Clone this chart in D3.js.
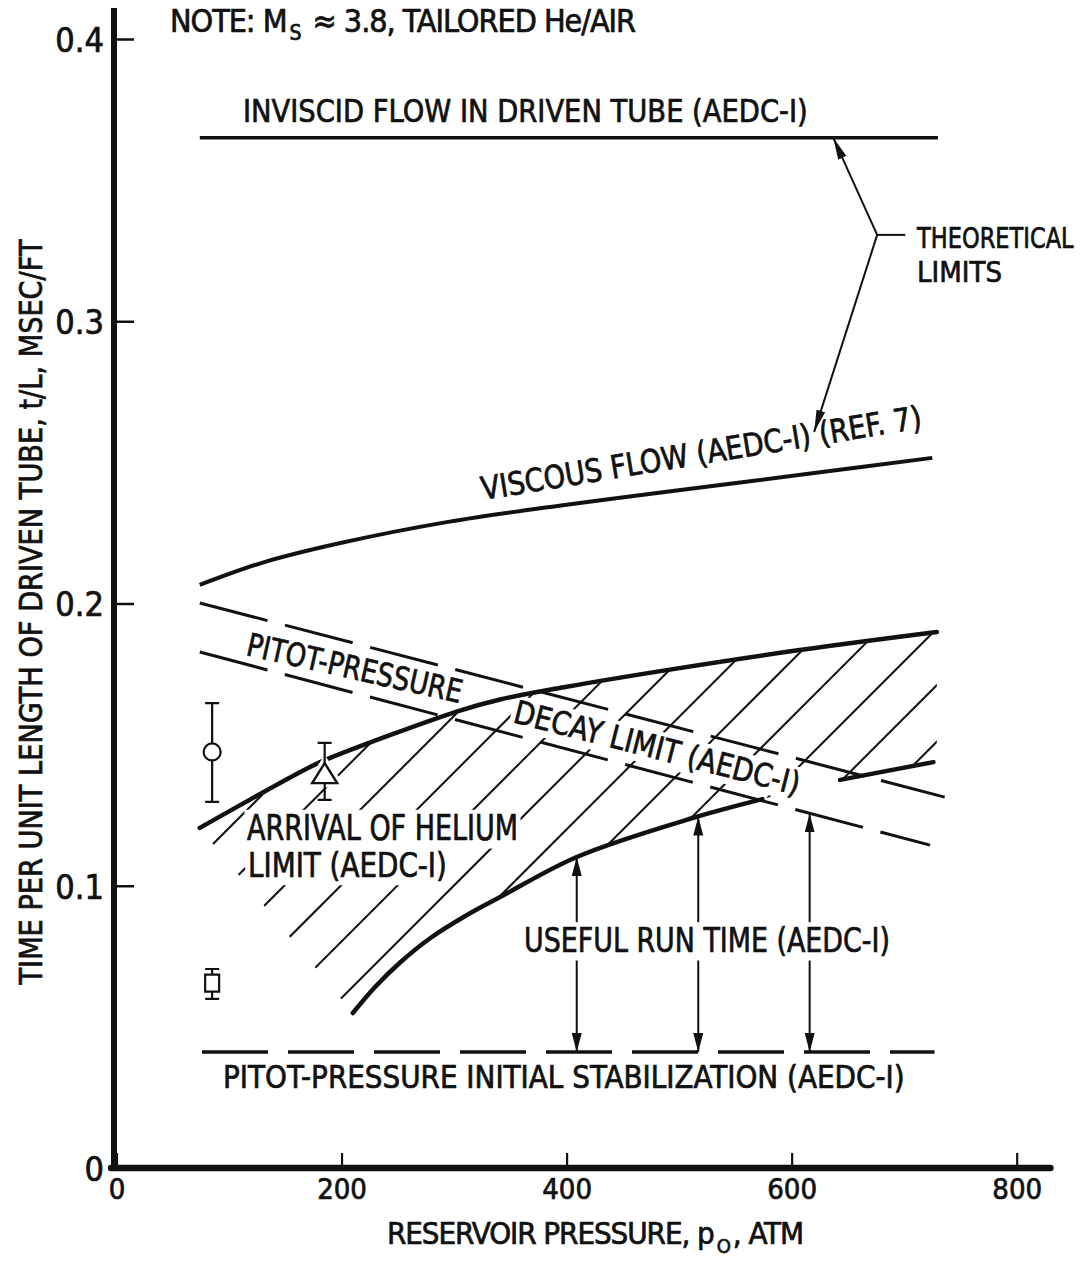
<!DOCTYPE html>
<html>
<head>
<meta charset="utf-8">
<script src="https://cdn.jsdelivr.net/npm/d3@7"></script>
<style>
  html, body { margin: 0; padding: 0; background: #fff; }
  svg { display: block; }
  text { font-family: "Liberation Sans Narrow", "DejaVu Sans Condensed", "Arial Narrow", sans-serif; fill: #111; stroke: #111; stroke-width: 0.7px; }
</style>
</head>
<body>
<svg id="chart" width="1091" height="1269"></svg>
<script>
// Run time per unit driven-tube length vs. reservoir pressure (AEDC-I tunnel)

// axis ticks
const xTicks = [0, 200, 400, 600, 800];
const yTicks = [0, 0.1, 0.2, 0.3, 0.4];
const yTickLabels = ["0", "0.1", "0.2", "0.3", "0.4"];

// theoretical limits  [reservoir pressure atm, t/L msec/ft]
const inviscid = [[74, 0.365], [730, 0.365]];
const viscous = [[74, 0.2066], [130, 0.2145], [200, 0.2215], [296, 0.2290], [400, 0.2350], [503, 0.2403], [620, 0.2462], [725, 0.2516]];

// arrival-of-helium limit (upper edge of useful region)
const heliumArrival = [[74, 0.1205], [172, 0.1421], [190, 0.1453], [303, 0.1618], [341, 0.1660], [400, 0.1705], [489, 0.1764], [607, 0.1835], [729, 0.1899]];

// lower solid limit curve, two drawn pieces
const lowerLimitA = [[210, 0.0549], [230, 0.0642], [252, 0.0728], [279, 0.0815], [310, 0.0893], [341, 0.0960], [409, 0.1102], [512, 0.1240], [574, 0.1307]];
const lowerLimitB = [[643, 0.1375], [726, 0.1438]];

// pitot-pressure decay limit band and initial stabilization
const decayUpper = [[74, 0.2002], [736, 0.1314]];
const decayLower = [[74, 0.1828], [723, 0.1144]];
const stabilization = [[76, 0.0411], [727, 0.0411]];

// useful run time arrows
const runTimeP = [409, 517, 616];
const runTimeTop = [0.1102, 0.1245, 0.1256];
const runTimeBottom = 0.0411;

// measured points with scatter bars
const measShape = ["circle", "triangle", "square"];
const measP = [85, 185, 85];
const measT = [0.1474, 0.1392, 0.0655];
const measLo = [0.1297, 0.1304, 0.0599];
const measHi = [0.1647, 0.1506, 0.0705];

// "theoretical limits" pointer: upper tip, junction, lower tip, label tick end
const pointerUpperTip = [637, 0.365];
const pointerJunction = [676, 0.3306];
const pointerLowerTip = [620, 0.2608];
const pointerTickEnd = [701, 0.3306];

const svg = d3.select("#chart");
const x = d3.scaleLinear().domain([0, 800]).range([116.5, 1016.7]);
const y = d3.scaleLinear().domain([0, 0.4]).range([1168, 39]);

const smooth = d3.line().x(d => x(d[0])).y(d => y(d[1])).curve(d3.curveCatmullRom.alpha(0.5));
const straight = d3.line().x(d => x(d[0])).y(d => y(d[1]));

const defs = svg.append("defs");
function arrowMarker(id, len, wid) {
  defs.append("marker")
    .attr("id", id).attr("markerUnits", "userSpaceOnUse")
    .attr("viewBox", `${-len} ${-wid} ${len + 1} ${wid * 2}`)
    .attr("refX", 0).attr("refY", 0)
    .attr("markerWidth", len + 1).attr("markerHeight", wid * 2)
    .attr("orient", "auto-start-reverse")
    .append("path").attr("d", `M0,0L${-len},${-wid / 2}L${-len},${wid / 2}Z`).attr("fill", "#111");
}
arrowMarker("headRun", 19, 10);
arrowMarker("headPtr", 22, 9);

// ---------- hatched useful-run-time region ----------
const h0 = heliumArrival[0], hN = heliumArrival[heliumArrival.length - 1];
const bN = lowerLimitB[lowerLimitB.length - 1];
defs.append("clipPath").attr("id", "belowHelium").append("path")
  .attr("d", smooth(heliumArrival) + `L${x(hN[0])},${y(0)}L${x(h0[0])},${y(0)}Z`);
defs.append("clipPath").attr("id", "aboveLower").append("path")
  .attr("d", `M${x(h0[0])},${y(h0[1])}L` + smooth(lowerLimitA).slice(1) + "L" + smooth(lowerLimitB).slice(1) +
    `L${x(780)},${y(bN[1])}L${x(780)},${y(0.4)}L${x(20)},${y(0.4)}L${x(20)},${y(h0[1])}Z`);

const hatchStep = 56.5, hatchPhase = 1170;
const hatchC = d3.range(-6, 14).map(k => hatchPhase + k * hatchStep);
svg.append("g").attr("clip-path", "url(#belowHelium)")
  .append("g").attr("clip-path", "url(#aboveLower)")
  .selectAll("line").data(hatchC).join("line")
  .attr("x1", c => 100).attr("y1", c => c - 100)
  .attr("x2", c => 1000).attr("y2", c => c - 1000)
  .attr("stroke", "#111").attr("stroke-width", 2);

// ---------- axes ----------
const gx = svg.append("g").attr("transform", `translate(0,${y(0)})`)
  .call(d3.axisBottom(x).tickValues(xTicks).tickSize(-15).tickSizeOuter(0).tickPadding(10).tickFormat(d3.format("d")));
gx.select(".domain").remove();
gx.selectAll(".tick line").attr("stroke", "#111").attr("stroke-width", 2.2);
gx.selectAll(".tick text").attr("font-size", 29);

const gy = svg.append("g").attr("transform", `translate(${x(0) - 2.5},0)`)
  .call(d3.axisLeft(y).tickValues(yTicks).tickSize(-20).tickSizeOuter(0).tickPadding(10).tickFormat((d, i) => yTickLabels[i]));
gy.select(".domain").remove();
gy.selectAll(".tick line").attr("stroke", "#111").attr("stroke-width", 2.5);
gy.selectAll(".tick text").attr("font-size", 34).attr("dy", "0.36em");

svg.append("line").attr("x1", x(0) - 5.5).attr("x2", x(830)).attr("y1", y(0)).attr("y2", y(0))
  .attr("stroke", "#111").attr("stroke-width", 6.5).attr("stroke-linecap", "round");
svg.append("line").attr("x1", x(0) - 2.5).attr("x2", x(0) - 2.5).attr("y1", y(0) + 2).attr("y2", y(0.411))
  .attr("stroke", "#111").attr("stroke-width", 6);

// ---------- labels ----------
// Labels are squeezed horizontally to their lettered width; knockout=true
// clears whatever lies under the label's box.
function label(str, px, py, size, len, angle, knockout) {
  const g = svg.append("g");
  const t = g.append("text").attr("font-size", size).text(str);
  const w = t.node().getBBox().width;
  g.attr("transform", `translate(${px},${py}) rotate(${angle || 0}) scale(${(len / w).toFixed(4)},1)`);
  if (knockout) {
    const bb = t.node().getBBox();
    g.insert("rect", "text").attr("x", bb.x - 3).attr("y", bb.y + 2).attr("width", bb.width + 6).attr("height", bb.height - 2).attr("fill", "#fff");
  }
  return t;
}
// stretch a multi-part label to a given width with letter spacing
function spreadTo(t, width) {
  const n = t.text().length;
  const w = t.node().getBBox().width;
  t.attr("letter-spacing", ((width - w) / n).toFixed(2));
}

const note = svg.append("text").attr("x", 170).attr("y", 32).attr("font-size", 32);
note.append("tspan").text("NOTE:  M");
note.append("tspan").attr("font-size", 21).attr("dx", 3).attr("dy", 8).text("S");
note.append("tspan").attr("dx", 4).attr("dy", -8).text(" \u2248 3.8,  TAILORED He/AIR");
spreadTo(note, 463);

label("INVISCID FLOW IN DRIVEN TUBE (AEDC-I)", 243, 122, 32, 565);
label("THEORETICAL", 917, 248, 29, 158);
label("LIMITS", 917, 282, 29, 85);
label("VISCOUS FLOW (AEDC-I) (REF. 7)", 483, 500, 32, 446, -9.3);
label("PITOT-PRESSURE", 245, 655, 32, 220, 12.6, true);
label("DECAY LIMIT (AEDC-I)", 512, 722, 32, 294, 14.4, true);
label("ARRIVAL OF HELIUM", 247, 840, 35, 271, 0, true);
label("LIMIT (AEDC-I)", 248, 877, 33, 199, 0, true);
label("PITOT-PRESSURE INITIAL STABILIZATION (AEDC-I)", 223, 1088, 32, 682);

const xt = svg.append("text").attr("x", 387).attr("y", 1244).attr("font-size", 31);
xt.append("tspan").text("RESERVOIR PRESSURE, p");
xt.append("tspan").attr("font-size", 20).attr("dx", 3).attr("dy", 9).text("O");
xt.append("tspan").attr("dx", 3).attr("dy", -9).text(", ATM");
spreadTo(xt, 416);

svg.append("text").attr("transform", "translate(42,612) rotate(-90)").attr("text-anchor", "middle")
  .attr("font-size", 32).attr("textLength", 745).attr("lengthAdjust", "spacingAndGlyphs")
  .text("TIME PER UNIT LENGTH OF DRIVEN TUBE, t/L, MSEC/FT");

// ---------- limit lines ----------
const ink = "#111";
svg.append("path").attr("d", straight(inviscid)).attr("fill", "none").attr("stroke", ink).attr("stroke-width", 3.5);
svg.append("path").attr("d", smooth(viscous)).attr("fill", "none").attr("stroke", ink).attr("stroke-width", 4);
svg.append("path").attr("d", smooth(heliumArrival)).attr("fill", "none").attr("stroke", ink).attr("stroke-width", 4.5).attr("stroke-linecap", "round");
svg.append("path").attr("d", smooth(lowerLimitA)).attr("fill", "none").attr("stroke", ink).attr("stroke-width", 4.5).attr("stroke-linecap", "round");
svg.append("path").attr("d", smooth(lowerLimitB)).attr("fill", "none").attr("stroke", ink).attr("stroke-width", 4.5).attr("stroke-linecap", "round");
svg.append("path").attr("d", straight(decayUpper)).attr("fill", "none").attr("stroke", ink).attr("stroke-width", 3).attr("stroke-dasharray", "70 18");
svg.append("path").attr("d", straight(decayLower)).attr("fill", "none").attr("stroke", ink).attr("stroke-width", 3).attr("stroke-dasharray", "70 18");
svg.append("path").attr("d", straight(stabilization)).attr("fill", "none").attr("stroke", ink).attr("stroke-width", 3.5).attr("stroke-dasharray", "66 20");

// useful run time double arrows
svg.append("g").selectAll("line").data(runTimeP).join("line")
  .attr("x1", d => x(d)).attr("x2", d => x(d))
  .attr("y1", (d, i) => y(runTimeTop[i])).attr("y2", y(runTimeBottom))
  .attr("stroke", ink).attr("stroke-width", 2)
  .attr("marker-start", "url(#headRun)").attr("marker-end", "url(#headRun)");

// label sits over the arrows, which break around it
label("USEFUL RUN TIME (AEDC-I)", 524, 952, 34, 366, 0, true);

// theoretical limits pointer
svg.append("path").attr("d", straight([pointerJunction, pointerUpperTip])).attr("fill", "none").attr("stroke", ink).attr("stroke-width", 2).attr("marker-end", "url(#headPtr)");
svg.append("path").attr("d", straight([pointerJunction, pointerLowerTip])).attr("fill", "none").attr("stroke", ink).attr("stroke-width", 2).attr("marker-end", "url(#headPtr)");
svg.append("path").attr("d", straight([pointerJunction, pointerTickEnd])).attr("fill", "none").attr("stroke", ink).attr("stroke-width", 2);

// ---------- measured points ----------
const meas = measShape.map((s, i) => ({ s, p: measP[i], t: measT[i], lo: measLo[i], hi: measHi[i] }));
const symbolPath = s => {
  if (s === "circle") return "M-8.5,0A8.5,8.5 0 1,0 8.5,0A8.5,8.5 0 1,0 -8.5,0Z";
  if (s === "triangle") return "M0,-12L12.5,8L-12.5,8Z";
  return "M-7,-8.5H7V8.5H-7Z";
};
const gm = svg.append("g").attr("stroke", ink).attr("stroke-width", 2.2).attr("fill", "#fff");
// white gap in the helium curve around the triangle
gm.selectAll(".gap").data(meas.filter(d => d.s === "triangle")).join("path")
  .attr("transform", d => `translate(${x(d.p)},${y(d.t)})`)
  .attr("d", d => symbolPath(d.s)).attr("stroke", "#fff").attr("stroke-width", 9);
gm.selectAll(".bar").data(meas).join("path")
  .attr("d", d => {
    const cx = x(d.p), cw = 7;
    return `M${cx},${y(d.hi)}V${y(d.lo)}M${cx - cw},${y(d.hi)}H${cx + cw}M${cx - cw},${y(d.lo)}H${cx + cw}`;
  }).attr("fill", "none");
gm.selectAll(".sym").data(meas).join("path")
  .attr("transform", d => `translate(${x(d.p)},${y(d.t)})`)
  .attr("d", d => symbolPath(d.s))
  .attr("stroke-width", d => d.s === "triangle" ? 2.4 : 2.2);
</script>
</body>
</html>
